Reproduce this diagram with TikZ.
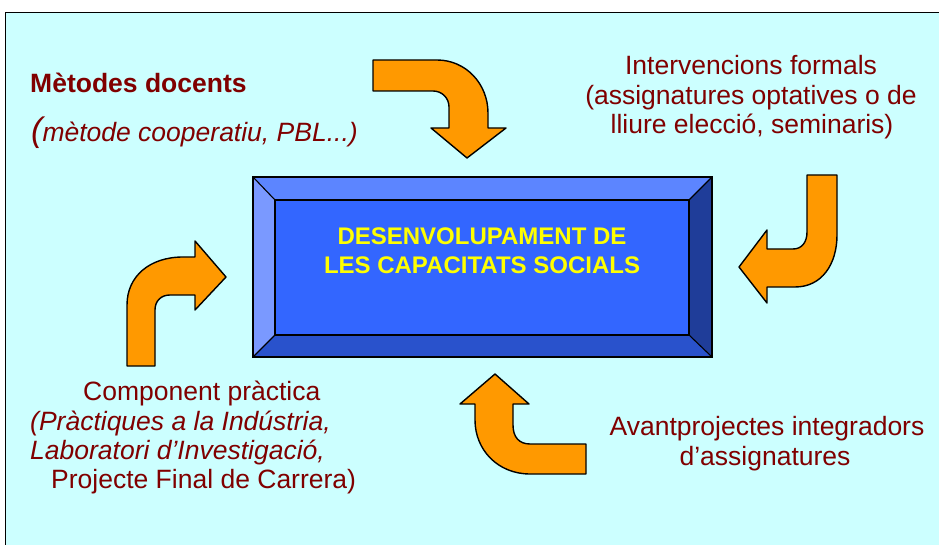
\documentclass[tikz,border=0pt]{standalone}
\usepackage{fontspec}
\setmainfont{Liberation Sans}
\definecolor{bgcyan}{HTML}{CCFFFF}
\definecolor{orng}{HTML}{FF9900}
\definecolor{dred}{HTML}{800000}
\definecolor{bvtop}{HTML}{5C85FF}
\definecolor{bvleft}{HTML}{7A99FF}
\definecolor{bvmid}{HTML}{3366FF}
\definecolor{bvright}{HTML}{1F3D99}
\definecolor{bvbot}{HTML}{2952CC}
\definecolor{ylw}{HTML}{FFFF00}
\begin{document}
\begin{tikzpicture}[x=1pt,y=-1pt,
  bentarrow/.style={fill=orng,draw=black,line width=1.4pt,line join=round},
  bevel/.style={draw=black,line width=1.1pt,line join=miter},
  lbl/.style={text=dred,inner sep=0pt,font=\fontsize{26.5}{30}\selectfont},
  lblb/.style={text=dred,inner sep=0pt,font=\fontsize{26.5}{30}\selectfont\bfseries},
  lbli/.style={text=dred,inner sep=0pt,font=\fontsize{26.5}{30}\selectfont\itshape},
  core/.style={text=ylw,inner sep=0pt,font=\fontsize{24}{28}\selectfont\bfseries}]
\useasboundingbox (0,0) rectangle (939,545);
% background panel
\fill[white] (0,0) rectangle (939,545);
\draw[fill=bgcyan,line width=1.6pt] (5.5,12.5) rectangle (960,570);
% bevelled central box
\fill[bvtop]   (253,177) -- (712,177) -- (689,200) -- (275,200) -- cycle;
\fill[bvleft]  (253,177) -- (275,200) -- (275,335) -- (253,357) -- cycle;
\fill[bvright] (712,177) -- (712,357) -- (689,335) -- (689,200) -- cycle;
\fill[bvbot]   (253,357) -- (275,335) -- (689,335) -- (712,357) -- cycle;
\fill[bvmid]   (275,200) rectangle (689,335);
\draw[bevel] (253,177) rectangle (712,357);
\draw[bevel] (275,200) rectangle (689,335);
\draw[bevel] (253,177) -- (275,200) (712,177) -- (689,200)
             (253,357) -- (275,335) (712,357) -- (689,335);
\node[core,anchor=base] (c1) at (482,245) {DESENVOLUPAMENT DE};
\node[core,anchor=base] (c2) at (482,273) {LES CAPACITATS SOCIALS};
% top arrow
\draw[bentarrow] (373,60) -- (437,60) .. controls (466,60) and (488,84) .. (488,113)
  -- (488,128) -- (506,128) -- (467,158) -- (431,128) -- (449,128) -- (449,107)
  .. controls (449,98) and (442,91) .. (433,91) -- (373,91) -- cycle;
% right arrow
\draw[bentarrow] (807,175) -- (837,175) -- (837,235) .. controls (837,264) and (822,287) .. (795,287)
  -- (767,287) -- (767,303) -- (739,267) -- (767,230) -- (767,249) -- (793,249)
  .. controls (802,249) and (807,242) .. (807,232) -- cycle;
% left arrow
\draw[bentarrow] (127,366) -- (127,305) .. controls (127,276) and (150,257) .. (183,257)
  -- (195,257) -- (195,241) -- (226,277) -- (195,310) -- (195,295) -- (170,295)
  .. controls (161,295) and (155,301) .. (155,310) -- (155,366) -- cycle;
% bottom arrow
\draw[bentarrow] (586,444) -- (586,474) -- (530,474) .. controls (498,474) and (475,450) .. (475,420)
  -- (475,404) -- (460,404) -- (495,374) -- (529,404) -- (513,404) -- (513,425)
  .. controls (513,437) and (519,444) .. (530,444) -- cycle;
% texts
\node[lblb,anchor=base west] (m1) at (30,93) {Mètodes docents};
\node[lbli,anchor=base west] (m2) at (31,142) {{\fontsize{34}{34}\selectfont(}mètode cooperatiu, PBL...)};
\node[lbl,anchor=base] (i1) at (751,75) {Intervencions formals};
\node[lbl,anchor=base] (i2) at (751,105) {(assignatures optatives o de};
\node[lbl,anchor=base] (i3) at (752,134) {lliure elecció, seminaris)};
\node[lbl,anchor=base west] (p1) at (83,400) {Component pràctica};
\node[lbli,anchor=base west] (p2) at (30,430) {(Pràctiques a la Indústria,};
\node[lbli,anchor=base west] (p3) at (30,459) {Laboratori d’Investigació,};
\node[lbl,anchor=base west] (p4) at (51,488) {Projecte Final de Carrera)};
\node[lbl,anchor=base] (a1) at (767,435) {Avantprojectes integradors};
\node[lbl,anchor=base] (a2) at (765,465) {d’assignatures};
\end{tikzpicture}
\end{document}
